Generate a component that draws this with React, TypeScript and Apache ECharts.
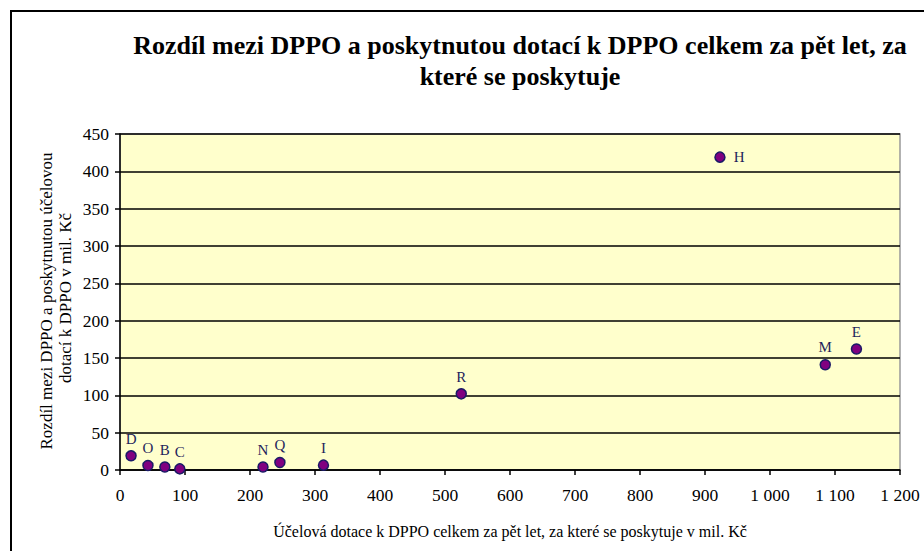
import React, { useEffect, useRef } from "react";
import * as echarts from "echarts";

const names = ["D", "O", "B", "C", "N", "Q", "I", "R", "H", "M", "E"];
const xValues = [17, 43, 69, 92, 220, 246, 313, 525, 923, 1085, 1133];
const yValues = [19, 6, 4, 1.5, 4, 10, 6.5, 102, 419, 141, 162];
const labelRight = ["H"];

const titleLines = [
  "Rozdíl mezi DPPO a poskytnutou dotací k DPPO celkem za pět let, za",
  "které se poskytuje",
];
const xAxisName = "Účelová dotace k DPPO celkem za pět let, za které se poskytuje v mil. Kč";
const yAxisLines = ["Rozdíl mezi DPPO a poskytnutou účelovou", "dotací k DPPO v mil. Kč"];

const SERIF = "Liberation Serif";

export default function App() {
  const ref = useRef<HTMLDivElement>(null);
  useEffect(() => {
    if (!ref.current) return;
    const chart = echarts.init(ref.current, undefined, { renderer: "svg" });
    const data = names.map((n, i) => ({
      name: n,
      value: [xValues[i], yValues[i]],
      label: labelRight.includes(n) ? { position: "right", distance: 8 } : undefined,
    }));
    const txt = (text: string, x: number, y: number, size: number, bold: boolean, rot = 0) => ({
      type: "text",
      x,
      y,
      rotation: rot,
      silent: true,
      style: {
        text,
        fontFamily: SERIF,
        fontSize: size,
        fontWeight: bold ? "bold" : "normal",
        fill: "#000",
        textAlign: "center",
        textVerticalAlign: "middle",
      },
    });
    chart.setOption({
      animation: false,
      backgroundColor: "#ffffff",
      graphic: [
        {
          type: "rect",
          shape: { x: 11, y: 11, width: 940, height: 580 },
          style: { fill: "none", stroke: "#000", lineWidth: 2 },
          silent: true,
        },
        txt(titleLines[0], 520, 45, 26, true),
        txt(titleLines[1], 520, 76, 26, true),
        txt(yAxisLines[0], 46, 301, 17, false, Math.PI / 2),
        txt(yAxisLines[1], 65, 298, 17, false, Math.PI / 2),
      ],
      grid: {
        left: 120,
        right: 24,
        top: 134,
        bottom: 81,
        show: true,
        backgroundColor: "#ffffcc",
        borderColor: "#999999",
        borderWidth: 1.5,
      },
      xAxis: {
        type: "value",
        min: 0,
        max: 1200,
        interval: 100,
        name: xAxisName,
        nameLocation: "middle",
        nameGap: 53,
        nameTextStyle: { fontFamily: SERIF, fontSize: 16, color: "#000" },
        axisLine: { show: true, onZero: false, lineStyle: { color: "#000", width: 1.5 } },
        axisTick: { show: true, inside: false, length: 5, lineStyle: { color: "#000", width: 1.5 } },
        axisLabel: {
          fontFamily: SERIF,
          fontSize: 17.5,
          color: "#000",
          margin: 16,
          formatter: (v: number) => (v >= 1000 ? `${Math.floor(v / 1000)} ${String(v % 1000).padStart(3, "0")}` : String(v)),
        },
        splitLine: { show: false },
      },
      yAxis: {
        type: "value",
        min: 0,
        max: 450,
        interval: 50,
        axisLine: { show: true, lineStyle: { color: "#000", width: 1.5 } },
        axisTick: { show: true, inside: false, length: 5, lineStyle: { color: "#000", width: 1.5 } },
        axisLabel: { fontFamily: SERIF, fontSize: 17.5, color: "#000", margin: 11 },
        splitLine: { show: true, lineStyle: { color: "#000", width: 1.5 } },
      },
      series: [
        {
          type: "scatter",
          data,
          symbol: "circle",
          symbolSize: 10,
          itemStyle: { color: "#800080", borderColor: "#1a1a66", borderWidth: 1.5, opacity: 1 },
          label: {
            show: true,
            position: "top",
            distance: 4,
            formatter: (p: any) => p.name,
            fontFamily: SERIF,
            fontSize: 15,
            color: "#1f1f5c",
          },
        },
      ],
    });
    return () => chart.dispose();
  }, []);
  return (
    <div
      ref={ref}
      style={{ position: "fixed", left: 0, top: 0, width: 924, height: 551 }}
    />
  );
}
